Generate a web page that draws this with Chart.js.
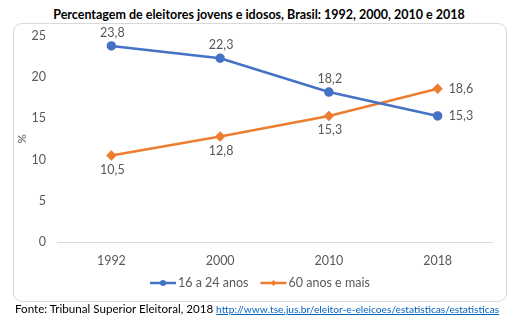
<!DOCTYPE html>
<html>
<head>
<meta charset="utf-8">
<script src="https://cdn.jsdelivr.net/npm/chart.js@4/dist/chart.umd.min.js"></script>
<style>
  body { margin: 0; width: 518px; height: 324px; background: #fff; position: relative; overflow: hidden; font-family: Lato, "Open Sans", sans-serif; }
  #titulo { position: absolute; top: 7px; left: 0; width: 518px; text-align: center; font-weight: bold; font-size: 12.5px; color: #000; }
  #caixa { position: absolute; left: 13px; top: 23px; width: 492px; height: 277px; border: 1px solid #d9d9d9; border-radius: 9px; }
  #grafico { position: absolute; left: 0; top: 0; }
  #fonte { position: absolute; left: 15px; top: 302px; font-size: 11.6px; color: #000; white-space: nowrap; }
  #fonte a { color: #0563c1; font-size: 10.2px; }
</style>
</head>
<body>
<div id="titulo">Percentagem de eleitores jovens e idosos, Brasil: 1992, 2000, 2010 e 2018</div>
<div id="caixa"></div>
<canvas id="grafico" width="518" height="324"></canvas>
<div id="fonte">Fonte: Tribunal Superior Eleitoral, 2018 <a href="#">http://www.tse.jus.br/eleitor-e-eleicoes/estatisticas/estatisticas</a></div>
<script>
const anos = ['1992', '2000', '2010', '2018'];
const jovens = [23.8, 22.3, 18.2, 15.3];
const idosos = [10.5, 12.8, 15.3, 18.6];
const posJovens = ['top', 'top', 'top', 'right'];
const posIdosos = ['bottom', 'bottom', 'bottom', 'right'];

const corTexto = '#595959';
const fonte = 'Lato, "Open Sans", sans-serif';

// rótulos de dados estilo Excel
const rotulos = {
  id: 'rotulos',
  afterDatasetsDraw(chart) {
    const ctx = chart.ctx;
    ctx.save();
    ctx.font = '12.5px ' + fonte;
    ctx.fillStyle = corTexto;
    chart.data.datasets.forEach((ds, i) => {
      const meta = chart.getDatasetMeta(i);
      meta.data.forEach((pt, j) => {
        const txt = ds.data[j].toFixed(1).replace('.', ',');
        const pos = ds.posicoes[j];
        if (pos === 'top') {
          ctx.textAlign = 'center'; ctx.textBaseline = 'middle';
          ctx.fillText(txt, pt.x + 1, pt.y - 13);
        } else if (pos === 'bottom') {
          ctx.textAlign = 'center'; ctx.textBaseline = 'middle';
          ctx.fillText(txt, pt.x + 1, pt.y + 14);
        } else {
          ctx.textAlign = 'left'; ctx.textBaseline = 'middle';
          ctx.fillText(txt, pt.x + 11, pt.y);
        }
      });
    });
    ctx.restore();
  }
};

// legenda com linha e marcador
const legenda = {
  id: 'legenda',
  afterDraw(chart) {
    const ctx = chart.ctx;
    ctx.save();
    ctx.font = '12.5px ' + fonte;
    const y = 283;
    let x = 150;
    chart.data.datasets.forEach((ds) => {
      ctx.strokeStyle = ds.borderColor;
      ctx.lineWidth = 2.5;
      ctx.beginPath();
      ctx.moveTo(x, y);
      ctx.lineTo(x + 26, y);
      ctx.stroke();
      ctx.fillStyle = ds.borderColor;
      ctx.beginPath();
      if (ds.pointStyle === 'circle') {
        ctx.arc(x + 13, y, 3, 0, Math.PI * 2);
      } else {
        ctx.moveTo(x + 13, y - 3); ctx.lineTo(x + 16, y);
        ctx.lineTo(x + 13, y + 3); ctx.lineTo(x + 10, y);
        ctx.closePath();
      }
      ctx.fill();
      ctx.fillStyle = corTexto;
      ctx.textAlign = 'left';
      ctx.textBaseline = 'middle';
      ctx.fillText(ds.label, x + 28, y);
      x += 28 + ctx.measureText(ds.label).width + 12;
    });
    ctx.restore();
  }
};

new Chart(document.getElementById('grafico'), {
  type: 'line',
  data: {
    labels: anos,
    datasets: [
      {
        label: '16 a 24 anos',
        data: jovens,
        posicoes: posJovens,
        borderColor: '#4472c4',
        backgroundColor: '#4472c4',
        borderWidth: 2.5,
        pointStyle: 'circle',
        pointRadius: 3.5,
        pointHoverRadius: 3.5,
        tension: 0
      },
      {
        label: '60 anos e mais',
        data: idosos,
        posicoes: posIdosos,
        borderColor: '#ed7d31',
        backgroundColor: '#ed7d31',
        borderWidth: 2.5,
        pointStyle: 'rectRot',
        pointRadius: 3.5,
        pointHoverRadius: 3.5,
        tension: 0
      }
    ]
  },
  options: {
    responsive: false,
    animation: false,
    layout: { padding: { left: 15, right: 26, top: 36, bottom: 42 } },
    plugins: {
      legend: { display: false },
      tooltip: { enabled: false }
    },
    scales: {
      x: {
        offset: true,
        afterFit: (s) => { s.height = 40; },
        grid: { display: false, drawTicks: false },
        border: { display: true, color: '#d9d9d9', width: 1 },
        ticks: { color: corTexto, font: { family: fonte, size: 12.5 }, padding: 11 }
      },
      y: {
        min: 0,
        max: 25,
        afterFit: (s) => { s.width = 42; },
        grid: { display: false, drawTicks: false },
        border: { display: false },
        ticks: { stepSize: 5, color: corTexto, font: { family: fonte, size: 12.5 }, padding: 11 },
        title: { display: true, text: '%', color: corTexto, font: { family: fonte, size: 12 }, padding: { top: 0, bottom: 6 } }
      }
    }
  },
  plugins: [rotulos, legenda]
});
</script>
</body>
</html>
